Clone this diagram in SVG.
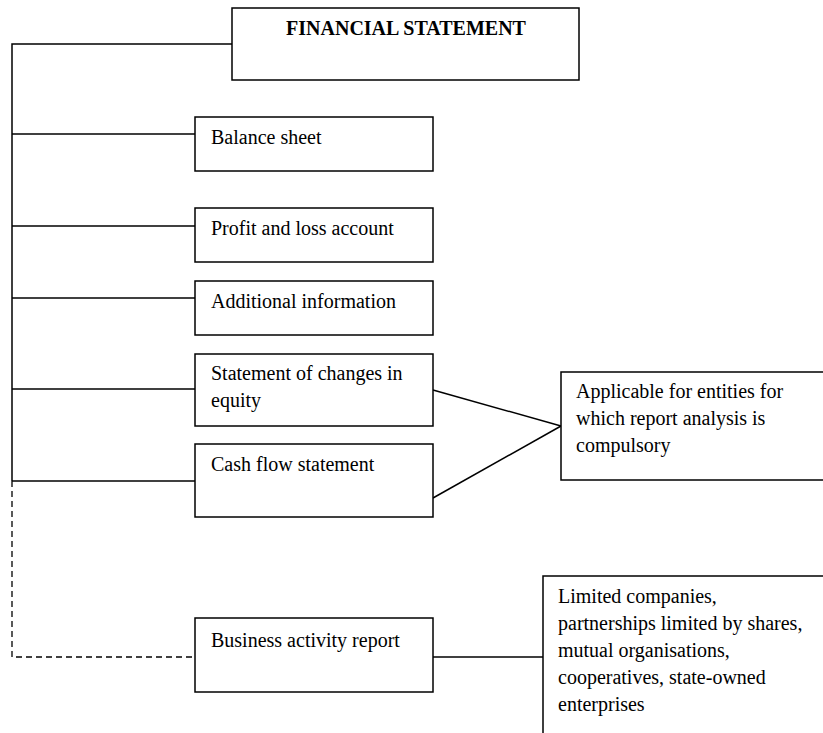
<svg xmlns="http://www.w3.org/2000/svg" width="823" height="733" viewBox="0 0 823 733">
<style>
.box{fill:#fff;stroke:#000;stroke-width:1.5}
.ln{fill:none;stroke:#000;stroke-width:1.5}
.dash{fill:none;stroke:#000;stroke-width:1.3;stroke-dasharray:6,4}
text{font-family:"Liberation Serif","Times New Roman",serif;font-size:20px;fill:#000}
.b{font-weight:bold}
</style>
<rect width="823" height="733" fill="#fff"/>
<g id="connectors">
<polyline class="ln" points="232,44 12,44 12,481"/>
<line class="ln" x1="12" y1="134" x2="195" y2="134"/>
<line class="ln" x1="12" y1="226" x2="195" y2="226"/>
<line class="ln" x1="12" y1="298" x2="195" y2="298"/>
<line class="ln" x1="12" y1="389" x2="195" y2="389"/>
<line class="ln" x1="12" y1="481" x2="195" y2="481"/>
<polyline class="dash" points="12,481 12,657 195,657"/>
<line class="ln" x1="433" y1="390" x2="561" y2="426"/>
<line class="ln" x1="433" y1="498" x2="561" y2="426"/>
<line class="ln" x1="433" y1="657" x2="543" y2="657"/>
</g>
<g id="financial-statement">
<rect class="box" x="232" y="8" width="347" height="72"/>
<text class="b" x="406" y="35" text-anchor="middle">FINANCIAL STATEMENT</text>
</g>
<g id="balance-sheet">
<rect class="box" x="195" y="117" width="238" height="54"/>
<text x="211" y="144">Balance sheet</text>
</g>
<g id="profit-loss">
<rect class="box" x="195" y="208" width="238" height="54"/>
<text x="211" y="235">Profit and loss account</text>
</g>
<g id="additional-info">
<rect class="box" x="195" y="281" width="238" height="54"/>
<text x="211" y="308">Additional information</text>
</g>
<g id="changes-equity">
<rect class="box" x="195" y="354" width="238" height="72"/>
<text x="211" y="380">Statement of changes in</text>
<text x="211" y="407">equity</text>
</g>
<g id="cash-flow">
<rect class="box" x="195" y="444" width="238" height="73"/>
<text x="211" y="471">Cash flow statement</text>
</g>
<g id="business-activity">
<rect class="box" x="195" y="618" width="238" height="74"/>
<text x="211" y="647">Business activity report</text>
</g>
<g id="applicable">
<rect class="box" x="561" y="372" width="270" height="108"/>
<text x="576" y="398">Applicable for entities for</text>
<text x="576" y="425">which report analysis is</text>
<text x="576" y="452">compulsory</text>
</g>
<g id="limited">
<rect class="box" x="543" y="576" width="290" height="170"/>
<text x="558" y="603">Limited companies,</text>
<text x="558" y="630">partnerships limited by shares,</text>
<text x="558" y="657">mutual organisations,</text>
<text x="558" y="684">cooperatives, state-owned</text>
<text x="558" y="711">enterprises</text>
</g>
</svg>
